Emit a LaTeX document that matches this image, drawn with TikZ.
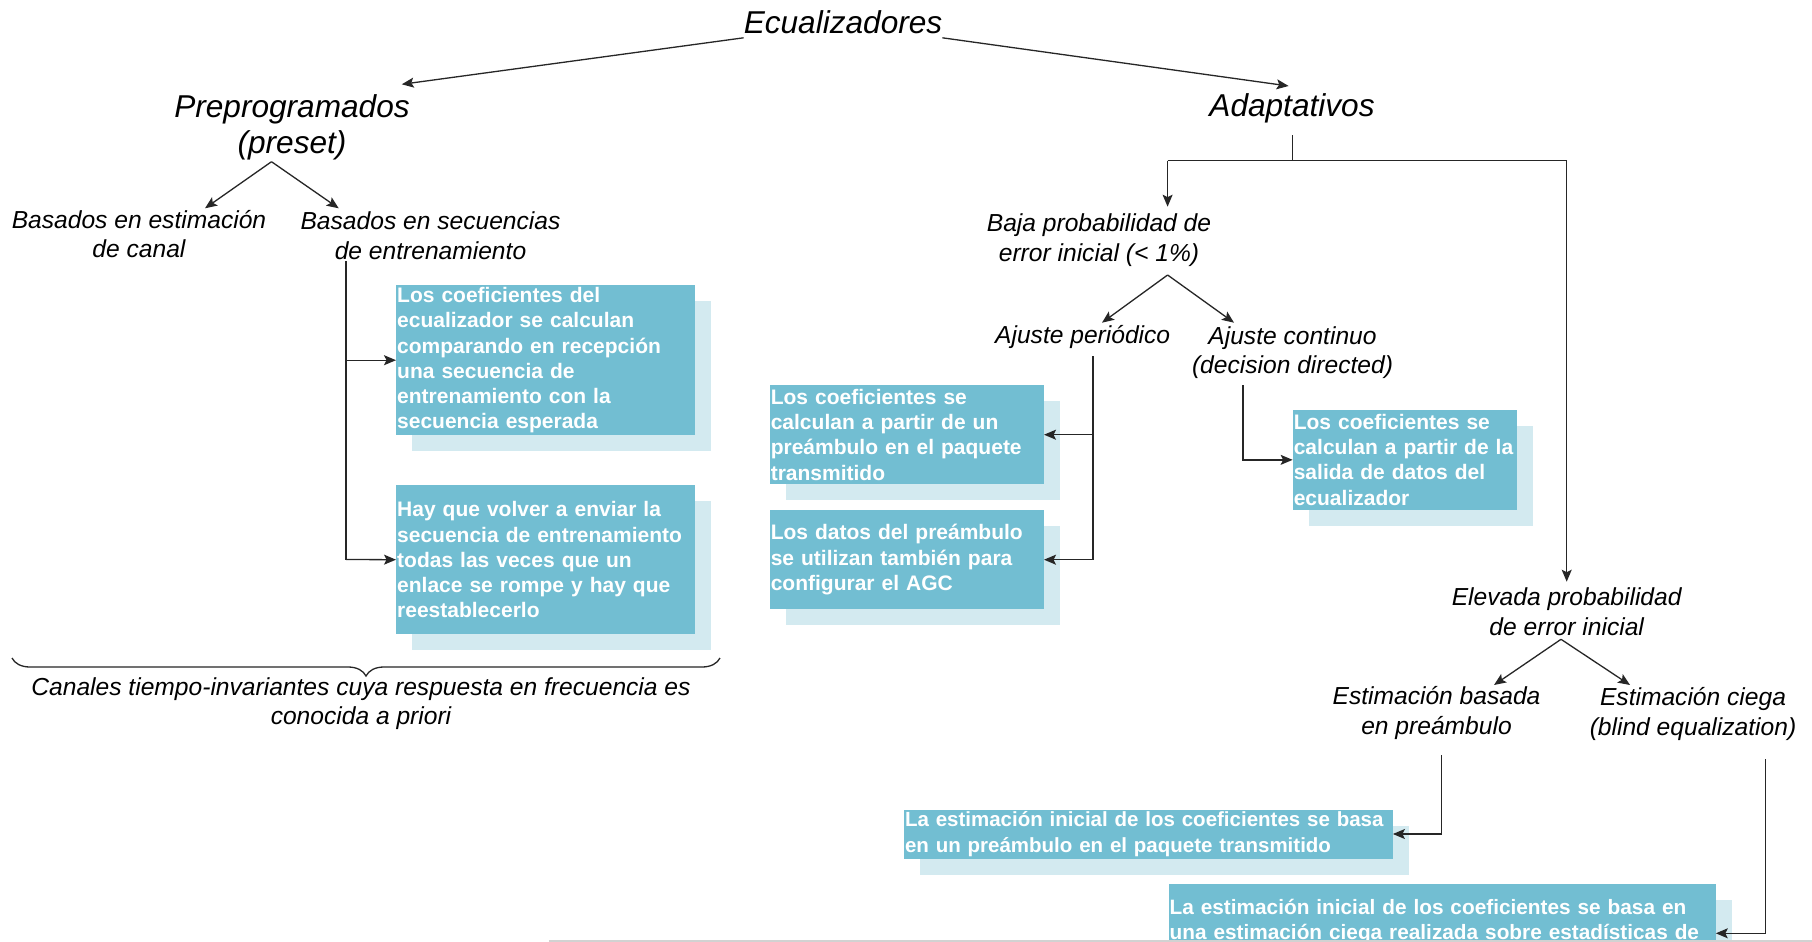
\documentclass[tikz,border=0pt]{standalone}
\usepackage{fontspec}
\setmainfont{Liberation Sans}
\usetikzlibrary{arrows.meta,shadows,decorations.pathreplacing}
\definecolor{boxc}{HTML}{72BED2}
\definecolor{shadc}{HTML}{D3EAF0}
\definecolor{linec}{HTML}{262626}
\begin{document}
\begin{tikzpicture}[x=1pt,y=-1pt,
  big/.style={font=\fontsize{31.6}{36.5}\selectfont\itshape, align=center, inner sep=0pt},
  lbl/.style={font=\fontsize{24.6}{29.6}\selectfont\itshape, align=center, inner sep=0pt},
  box/.style={fill=boxc, text=white, font=\fontsize{21}{25.2}\selectfont\bfseries,
    align=left, anchor=north west, inner xsep=1pt, inner ysep=0pt,
    drop shadow={shadow xshift=16pt, shadow yshift=-16pt, fill=shadc, opacity=1}},
  conn/.style={draw=linec, line width=1.3pt},
  arr/.style={conn, -{Stealth[length=12pt,width=10pt,inset=2.5pt]}},
  brc/.style={draw=linec, line width=1.3pt, decorate, decoration={brace, amplitude=18pt}}
]
\useasboundingbox (0,0) rectangle (1812,942);
\clip (0,0) rectangle (1812,942);
\fill[white] (0,0) rectangle (1812,942);

% labels
\node[big] (ecu) at (843,22) {Ecualizadores};
\node[big] (prep) at (292,127.5) {Preprogramados\\(preset)};
\node[big] (adap) at (1292,108) {Adaptativos};
\node[lbl] (canal) at (139,234) {Basados en estimación\\de canal};
\node[lbl] (secu) at (430.5,236) {Basados en secuencias\\de entrenamiento};
\node[lbl] (baja) at (1099,240) {Baja probabilidad de\\error inicial (< 1\%)};
\node[lbl] (per) at (1082.7,336.5) {Ajuste periódico};
\node[lbl] (cont) at (1292.5,352.5) {Ajuste continuo\\(decision directed)};
\node[lbl] (elev) at (1566.7,611.5) {Elevada probabilidad\\de error inicial};
\node[lbl] (estb) at (1436.5,713) {Estimación basada\\en preámbulo};
\node[lbl] (estc) at (1693,714) {Estimación ciega\\(blind equalization)};
\node[lbl] (cap) at (361,703.5) {Canales tiempo-invariantes cuya respuesta en frecuencia es\\conocida a priori};

% boxes
\node[box, text width=296.5pt, minimum height=150pt] (b1) at (396,285)
  {Los coeficientes del\\ecualizador se calculan\\comparando en recepción\\una secuencia de\\entrenamiento con la\\secuencia esperada};
\node[box, text width=296.5pt, minimum height=149pt] (b2) at (396,485)
  {Hay que volver a enviar la\\secuencia de entrenamiento\\todas las veces que un\\enlace se rompe y hay que\\reestablecerlo};
\node[box, text width=272pt, minimum height=99pt] (bA) at (769.6,385)
  {Los coeficientes se\\calculan a partir de un\\preámbulo en el paquete\\transmitido};
\node[box, text width=272pt, minimum height=99pt] (bB) at (769.6,510)
  {Los datos del preámbulo\\se utilizan también para\\configurar el AGC};
\node[box, text width=222pt, minimum height=99.3pt] (bC) at (1292.6,410)
  {Los coeficientes se\\calculan a partir de la\\salida de datos del\\ecualizador};
\node[box, text width=486.7pt, minimum height=49pt, font=\fontsize{20.5}{25.2}\selectfont\bfseries] (bD) at (903.8,809.3)
  {La estimación inicial de los coeficientes se basa\\en un preámbulo en el paquete transmitido};
\node[box, text width=545pt, inner ysep=16pt, font=\fontsize{20.8}{25.2}\selectfont\bfseries] (bE) at (1168.4,883.3)
  {La estimación inicial de los coeficientes se basa en\\una estimación ciega realizada sobre estadísticas de};

% coordinates for connector joints
\coordinate (pTip) at (401.8,84.3);
\coordinate (aTip) at (1288.6,86);
\coordinate (pf) at (271.5,161.7);
\coordinate (canT) at (205,208.3);
\coordinate (secT) at (338.7,208.3);
\coordinate (s1) at (346,261);
\coordinate (s2) at (346,559.5);
\coordinate (a1) at (1292.7,135);
\coordinate (a2) at (1292.7,160.7);
\coordinate (bajT) at (1167.6,206.7);
\coordinate (elvT) at (1566.7,581.7);
\coordinate (bf) at (1167.6,275);
\coordinate (perT) at (1102,322.7);
\coordinate (conT) at (1234,322.7);
\coordinate (p1) at (1093,356);
\coordinate (c1) at (1243,385);
\coordinate (ef) at (1561,639.3);
\coordinate (ebT) at (1494,685);
\coordinate (ecT) at (1630,685);
\coordinate (eb1) at (1441.8,755);
\coordinate (ec1) at (1765.8,759);
\coordinate (ec2) at (1765.8,933.3);

% connectors
\draw[arr] ([yshift=-4pt]ecu.south west) -- (pTip);
\draw[arr] ([yshift=-4pt]ecu.south east) -- (aTip);
\draw[arr] (pf) -- (canT);
\draw[arr] (pf) -- (secT);
\draw[conn] (s1) -- (s2);
\draw[arr] (s1 |- b1.west) -- (b1.west);
\draw[arr] (s2) -- (b2.west);
\draw[conn] (a1) -- (a2);
\draw[conn] (bajT |- a2) -- (elvT |- a2);
\draw[arr] (bajT |- a2) -- (bajT);
\draw[arr] (elvT |- a2) -- (elvT);
\draw[arr] (bf) -- (perT);
\draw[arr] (bf) -- (conT);
\draw[conn] (p1) -- (p1 |- bB.east);
\draw[arr] (p1 |- bA.east) -- (bA.east);
\draw[arr] (p1 |- bB.east) -- (bB.east);
\draw[arr] (c1) |- (bC.west);
\draw[arr] (ef) -- (ebT);
\draw[arr] (ef) -- (ecT);
\draw[arr] (eb1) |- (bD.east);
\draw[arr] (ec1) -- (ec2) -- (bE.east |- ec2);

% brace
\draw[brc] (720,658) -- (12,658);

% page edge line
\draw[gray!35, line width=2pt] (549,941) -- (1812,941);
\end{tikzpicture}
\end{document}
